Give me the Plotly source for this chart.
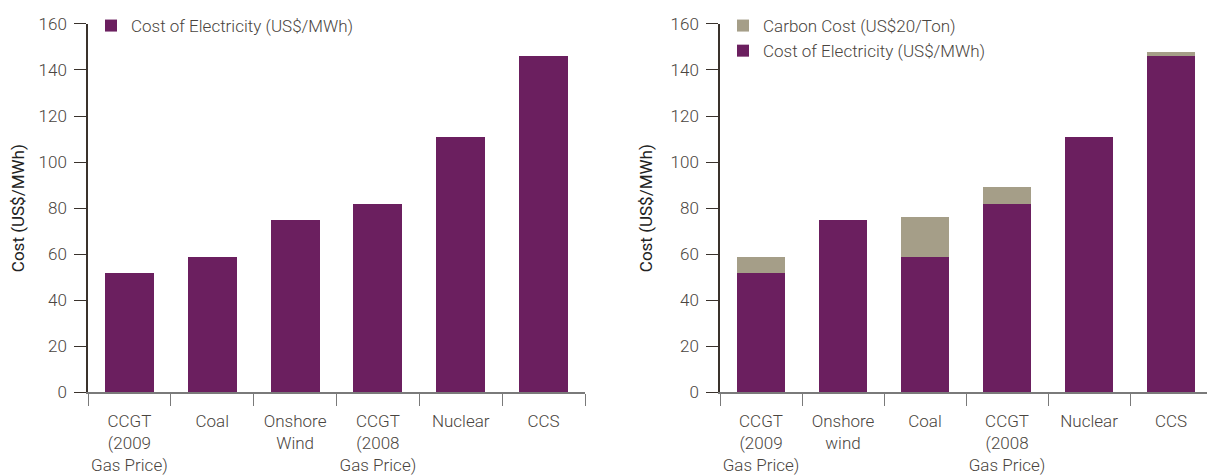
import plotly.graph_objects as go
from plotly.subplots import make_subplots

# Left chart data
left_categories = ["CCGT<br>(2009<br>Gas Price)", "Coal", "Onshore<br>Wind", "CCGT<br>(2008<br>Gas Price)", "Nuclear", "CCS"]
left_cost = [52, 59, 75, 82, 111, 146]

# Right chart data
right_categories = ["CCGT<br>(2009<br>Gas Price)", "Onshore<br>wind", "Coal", "CCGT<br>(2008<br>Gas Price)", "Nuclear", "CCS"]
right_cost = [52, 75, 59, 82, 111, 146]
right_carbon = [7, 0, 17, 7, 0, 2]

y_ticks = [0, 20, 40, 60, 80, 100, 120, 140, 160]

PURPLE = "#6b1f5f"
TAUPE = "#a59e88"
TEXT = "#4a4540"
AXIS = "#3a322c"
XAXIS = "#7a7a7a"
FONT = "Roboto"
FS = 17

fig = make_subplots(rows=1, cols=2)

fig.add_trace(go.Bar(x=left_categories, y=left_cost, name="Cost of Electricity (US$/MWh)",
                     marker=dict(color=PURPLE, line=dict(width=0)), legend="legend"), row=1, col=1)

fig.add_trace(go.Bar(x=right_categories, y=right_cost, name="Cost of Electricity (US$/MWh)",
                     marker=dict(color=PURPLE, line=dict(width=0)), legend="legend2"), row=1, col=2)
fig.add_trace(go.Bar(x=right_categories, y=right_carbon, name="Carbon Cost (US$20/Ton)",
                     marker=dict(color=TAUPE, line=dict(width=0)), legend="legend2"), row=1, col=2)

# page body offsets the figure by 8px; work in figure coordinates
W, H = 1207, 468
OFF = 8
y_top, y_bot = 22 - OFF, 392 - OFF
ydom = [(H - y_bot) / H, (H - y_top) / H]

tfont = dict(family=FONT, size=FS, color=TEXT, weight=300)

xaxis_common = dict(
    type="category", tickson="boundaries", ticks="outside", ticklen=12, tickcolor=XAXIS, tickwidth=1,
    showline=True, linecolor=XAXIS, linewidth=1.5, showgrid=False, zeroline=False,
    tickfont=tfont, automargin=False, ticklabelstandoff=12, tickangle=0,
)
yaxis_common = dict(
    range=[0, 160], tickvals=y_ticks, ticks="outside", ticklen=12, tickcolor=AXIS, tickwidth=1,
    showline=True, linecolor=AXIS, linewidth=1.5, showgrid=False, zeroline=False,
    tickfont=tfont, domain=ydom, automargin=False, ticklabelstandoff=4,
    title=dict(text="Cost (US$/MWh)", font=dict(family=FONT, size=FS, color="#222", weight=400), standoff=14),
)

fig.update_xaxes(**xaxis_common)
fig.update_yaxes(**yaxis_common)
fig.update_layout(
    xaxis=dict(domain=[(88 - OFF) / W, (585 - OFF) / W], range=[-0.5, 5.5]),
    xaxis2=dict(domain=[(720 - OFF) / W, 1.0], range=[-0.5, 5.536]),
)

fig.update_layout(
    width=W, height=H,
    margin=dict(l=0, r=0, t=0, b=0),
    paper_bgcolor="white", plot_bgcolor="white",
    barmode="stack", bargap=0.41,
    font=tfont,
    legend=dict(x=(106 - 15 - OFF) / W, y=(H + 2) / H, xanchor="left", yanchor="top",
                bgcolor="rgba(0,0,0,0)", font=tfont, tracegroupgap=0),
    legend2=dict(x=(738 - 15 - OFF) / W, y=(H + 2) / H, xanchor="left", yanchor="top",
                 bgcolor="rgba(0,0,0,0)", font=tfont, traceorder="reversed", tracegroupgap=0),
    showlegend=True,
)

fig.write_html("out.html")
